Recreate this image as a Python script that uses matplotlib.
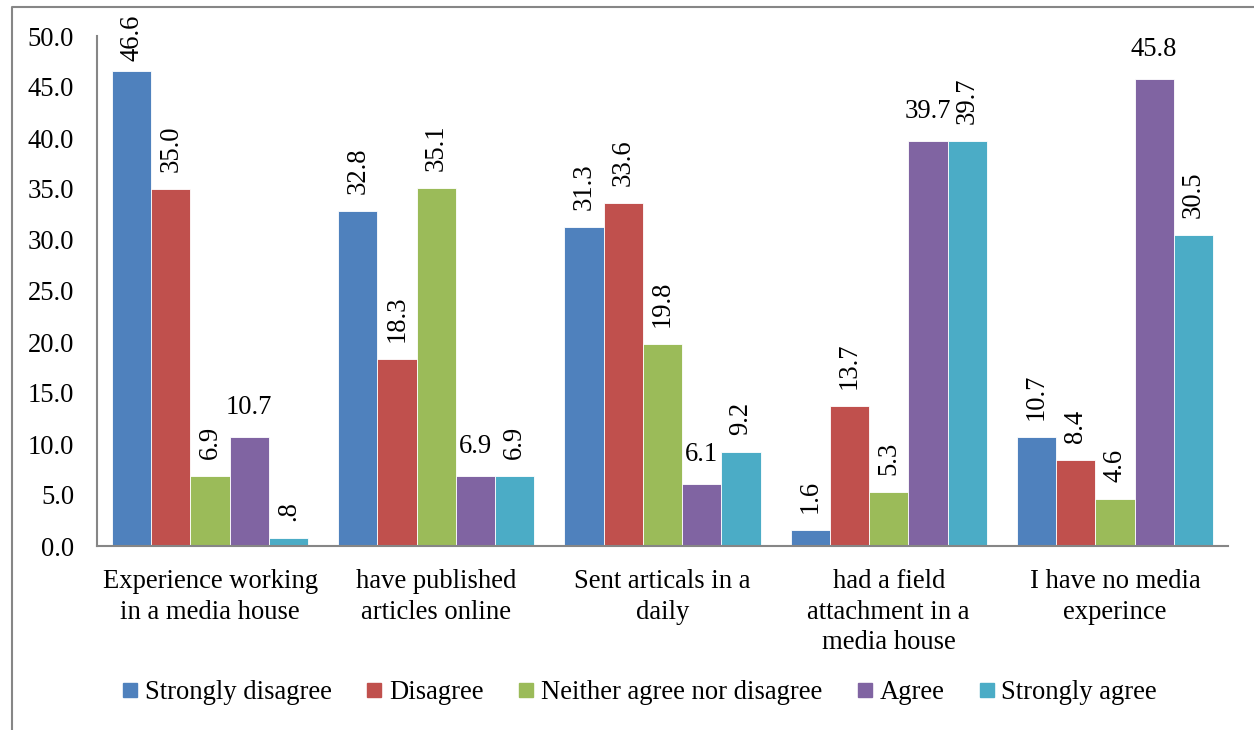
import matplotlib
matplotlib.use("Agg")
import matplotlib.pyplot as plt
import numpy as np
from matplotlib.lines import Line2D

plt.rcParams["font.family"] = ["Liberation Serif", "DejaVu Serif"]

categories = [
    "Experience working\nin a media house",
    "have published\narticles online",
    "Sent articals in a\ndaily",
    "had a field\nattachment in a\nmedia house",
    "I have no media\nexperince",
]
series_names = [
    "Strongly disagree",
    "Disagree",
    "Neither agree nor disagree",
    "Agree",
    "Strongly agree",
]
strongly_disagree = [46.6, 32.8, 31.3, 1.6, 10.7]
disagree = [35.0, 18.3, 33.6, 13.7, 8.4]
neither = [6.9, 35.1, 19.8, 5.3, 4.6]
agree = [10.7, 6.9, 6.1, 39.7, 45.8]
strongly_agree = [0.8, 6.9, 9.2, 39.7, 30.5]

series_values = [strongly_disagree, disagree, neither, agree, strongly_agree]
colors = ["#4F81BD", "#C0504D", "#9BBB59", "#8064A2", "#4BACC6"]
# Excel left the "Agree" labels horizontal, the rest rotated
horizontal_series = {"Agree"}

FONT = 19.2
W, H = 1254, 730

fig = plt.figure(figsize=(W / 100, H / 100), dpi=100)
ax = fig.add_axes([97 / W, (H - 546) / H, (1228 - 97) / W, (546 - 36) / H])

x = np.arange(len(categories))
bar_w = 0.1735
n = len(series_values)

label_texts = []
for i, (name, vals, col) in enumerate(zip(series_names, series_values, colors)):
    xpos = x + (i - (n - 1) / 2) * bar_w
    ax.bar(xpos, vals, width=bar_w, color=col, edgecolor="white", linewidth=0.6, zorder=2)
    for xp, v in zip(xpos, vals):
        txt = f"{v:.1f}"
        if v < 1:
            txt = txt.lstrip("0")
        rot = 0 if name in horizontal_series else 90
        t = ax.annotate(txt, (xp, v), xytext=(0, 17), textcoords="offset pixels",
                        ha="center", va="bottom", rotation=rot, fontsize=FONT,
                        annotation_clip=False)
        label_texts.append(t)

ax.set_xlim(-0.5, len(categories) - 0.5)
ax.set_ylim(0, 50)
ax.set_yticks(np.arange(0, 50.1, 5))
ax.set_yticklabels([f"{v:.1f}" for v in np.arange(0, 50.1, 5)], fontsize=FONT)
ax.set_xticks(x)
ax.set_xticklabels(categories, fontsize=FONT, linespacing=1.3)
ax.tick_params(axis="y", length=0, pad=16.5)
ax.tick_params(axis="x", length=0, pad=16.5)
for side in ["top", "right"]:
    ax.spines[side].set_visible(False)
for side in ["left", "bottom"]:
    ax.spines[side].set_color("#868686")
    ax.spines[side].set_linewidth(1.5)

# keep labels inside the chart frame (Excel nudges them down)
renderer = fig.canvas.get_renderer()
for t in label_texts:
    bb = t.get_window_extent(renderer)
    limit = H - 15
    if bb.y1 > limit:
        dy = bb.y1 - limit
        ox, oy = t.xyann
        t.xyann = (ox, oy - dy)

handles = [Line2D([], [], marker="s", linestyle="", markersize=10, color=c) for c in colors]
fig.legend(handles, series_names, loc="center", bbox_to_anchor=(0.51, 0.0507),
           ncol=5, frameon=False, fontsize=FONT, handlelength=0.6,
           handletextpad=0.25, columnspacing=1.3)

# chart border (cropped at right and bottom)
fig.add_artist(Line2D([11.5 / W, 11.5 / W, 1.0], [0.0, (H - 7) / H, (H - 7) / H],
                      transform=fig.transFigure, color="#868686", linewidth=1.5))

fig.savefig("out.png", dpi=100)
